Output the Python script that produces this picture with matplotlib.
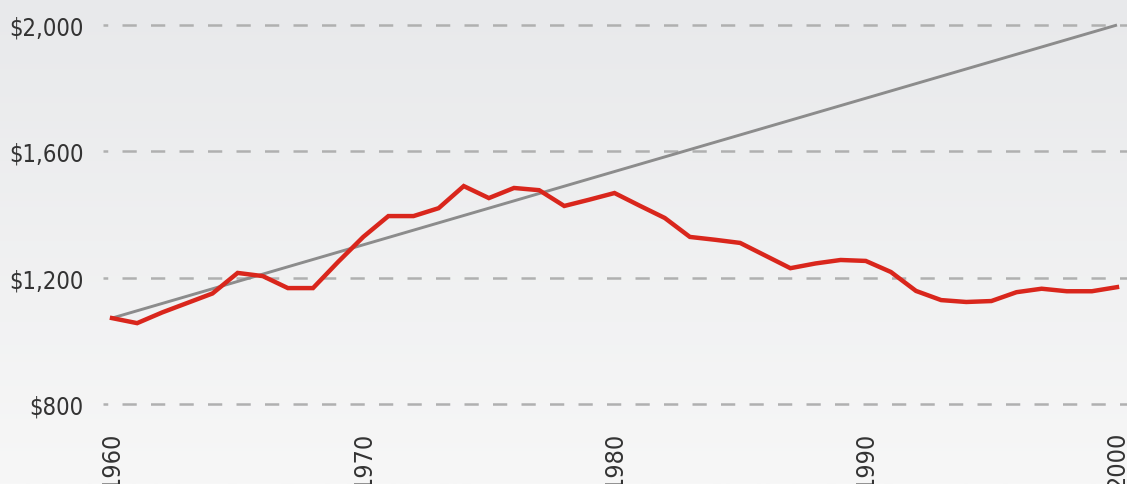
import numpy as np
import matplotlib.pyplot as plt
from matplotlib.ticker import FuncFormatter

plt.rcParams['font.family'] = ['DejaVu Sans']
plt.rcParams['font.stretch'] = 'condensed'

years = list(range(1960, 2001))
actual = [1072, 1056, 1090, 1120, 1150, 1215, 1205, 1167, 1167, 1250,
          1329, 1395, 1395, 1420, 1490, 1452, 1484, 1477, 1427, 1447,
          1468, 1428, 1389, 1329, 1320, 1310, 1270, 1230, 1245, 1256,
          1253, 1218, 1158, 1129, 1123, 1126, 1154, 1165, 1157, 1157,
          1170]
trend_years = [1960, 2000]
trend = [1072, 2000]
yticks = [800, 1200, 1600, 2000]
xticks = [1960, 1970, 1980, 1990, 2000]

W, H = 1127, 485
fig = plt.figure(figsize=(W / 100, H / 100), dpi=100)

# background gradient
bg = fig.add_axes([0, 0, 1, 1], zorder=-1)
grad = np.linspace(0, 1, 256).reshape(-1, 1)
top = np.array([232, 233, 235]) / 255
bot = np.array([247, 247, 247]) / 255
img = top + (bot - top) * grad[:, :, None]
bg.imshow(img, aspect='auto', extent=[0, 1, 0, 1])
bg.axis('off')

# axes from x px 103 to 1127, y px 0 to 425
ax = fig.add_axes([103 / W, (H - 425) / H, 1024 / W, 425 / H])
ax.set_facecolor('none')
ppy = 25.125
ax.set_xlim(1960 - 9 / ppy, 2000 + 10 / ppy)
ppu = 379 / 1200
ax.set_ylim(800 - 20 / ppu, 2000 + 26 / ppu)

for v in yticks:
    ax.axhline(v, color='#b0b0b0', lw=1.8, linestyle=(3.8, (5.7, 5.7)), zorder=1)

ax.plot(trend_years, trend, color='#8c8c8c', lw=2.1, zorder=2, solid_capstyle='butt')
ax.plot(years, actual, color='#d9261c', lw=3.2, zorder=3, solid_joinstyle='miter')

ax.set_yticks(yticks)
ax.yaxis.set_major_formatter(FuncFormatter(lambda v, p: '${:,.0f}'.format(v)))
ax.set_xticks(xticks)
ax.set_xticklabels([str(x) for x in xticks], rotation=90, va='top')
ax.tick_params(axis='y', length=0, pad=14, labelsize=17, labelcolor='#333333')
ax.tick_params(axis='x', length=0, pad=5, labelsize=18, labelcolor='#333333')
for s in ax.spines.values():
    s.set_visible(False)

fig.savefig('out.png', dpi=100)
